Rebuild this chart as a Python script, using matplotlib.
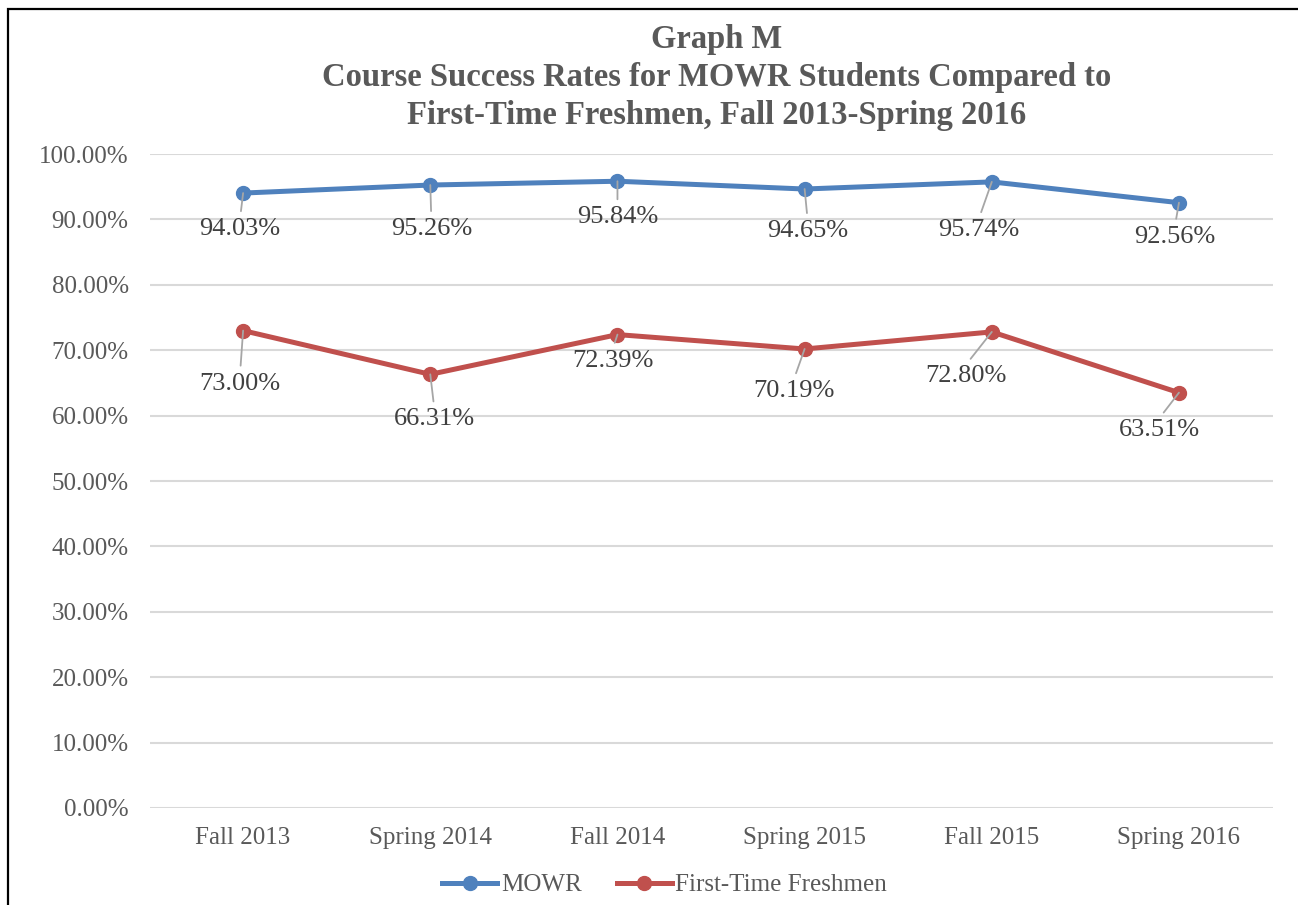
import matplotlib
matplotlib.use("Agg")
import matplotlib.pyplot as plt
from matplotlib.patches import Rectangle

terms = ["Fall 2013", "Spring 2014", "Fall 2014", "Spring 2015", "Fall 2015", "Spring 2016"]
mowr = [94.03, 95.26, 95.84, 94.65, 95.74, 92.56]
freshmen = [73.00, 66.31, 72.39, 70.19, 72.80, 63.51]

# label offsets in pixels (dx, dy) from each marker
mowr_off = [(-3, -36), (1, -44), (0, -36), (3, -42), (-13, -48), (-4, -34)]
fresh_off = [(-3, -53), (4, -45), (-5, -26), (-11, -42), (-26, -44), (-20, -37)]

plt.rcParams['font.family'] = ['Liberation Serif', 'DejaVu Serif']

fig = plt.figure(figsize=(12.98, 9.05), dpi=100)
ax = fig.add_axes([0.1152, 0.1072, 0.8652, 0.7226])

fig.patches.append(Rectangle((8/1298, -0.1), 1.2, 1 - 9/905 + 0.1, transform=fig.transFigure,
                             fill=False, edgecolor='black', linewidth=1.6))

x = list(range(len(terms)))
ax.plot(x, mowr, color='#4F81BD', lw=3.6, marker='o', ms=10, label='MOWR', zorder=3)
ax.plot(x, freshmen, color='#C0504D', lw=3.6, marker='o', ms=10, label='First-Time Freshmen', zorder=3)

for vals, offs in [(mowr, mowr_off), (freshmen, fresh_off)]:
    for i, v in enumerate(vals):
        ax.annotate(f"{v:.2f}%", (i, v), xytext=offs[i], textcoords='offset pixels',
                    ha='center', va='center', fontsize=19, color='#404040',
                    arrowprops=dict(arrowstyle='-', color='#A6A6A6', lw=1.3,
                                    shrinkA=3, shrinkB=0, relpos=(0.5, 1.0)))

ax.set_xlim(-0.5, len(terms) - 0.5)
ax.set_ylim(0, 100)
ax.set_yticks(range(0, 101, 10))
ax.set_yticklabels([f"{t:.2f}%" for t in range(0, 101, 10)])
ax.set_xticks(x)
ax.set_xticklabels(terms)
ax.tick_params(axis='both', length=0, labelsize=18, labelcolor='#595959')
ax.tick_params(axis='y', pad=15)
ax.tick_params(axis='x', pad=14)
ax.grid(axis='y', color='#D9D9D9', lw=1.5)
ax.set_axisbelow(True)
for s in ax.spines.values():
    s.set_visible(False)

fig.text(0.5524, 0.974, "Graph M\nCourse Success Rates for MOWR Students Compared to\nFirst-Time Freshmen, Fall 2013-Spring 2016",
         ha='center', va='top', fontsize=23.5, fontweight='bold', color='#595959', linespacing=1.3)

fig.legend(loc='center', bbox_to_anchor=(0.512, 0.022), ncol=2, frameon=False,
           fontsize=18, labelcolor='#595959', handlelength=2.2, handletextpad=0.15, columnspacing=1.4)

fig.savefig("out.png", dpi=100)
